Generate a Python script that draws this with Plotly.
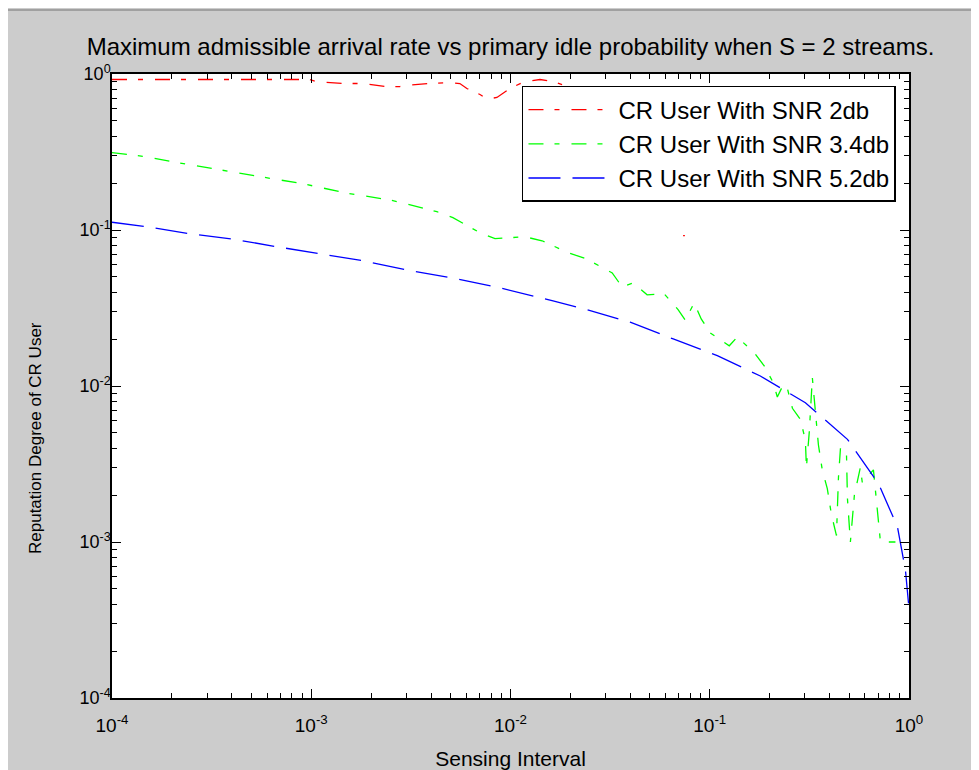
import plotly.graph_objects as go

# ---------------- data ----------------
red_x = [1e-4, 9.83e-4, 1.066e-3, 1.439e-3, 1.815e-3, 2.39e-3, 2.785e-3, 3.02e-3,
         3.94e-3, 4.97e-3, 5.57e-3, 6.04e-3, 7.03e-3, 7.62e-3, 8.55e-3, 9.94e-3,
         0.01155, 0.01406, 0.01636, 0.01815, None, 0.0735, 0.0750]
red_y = [0.922, 0.922, 0.891, 0.869, 0.869, 0.828, 0.831, 0.847,
         0.869, 0.882, 0.869, 0.807, 0.739, 0.691, 0.707, 0.807,
         0.886, 0.922, 0.895, 0.856, None, 0.092, 0.092]

green_x = [1e-4, 1.49e-4, 2.01e-4, 3.35e-4, 5.51e-4, 9.06e-4, 1.52e-3, 2.54e-3, 4.27e-3,
           5.14e-3, 7.03e-3, 8.36e-3, 0.0118, 0.0144, 0.0195, 0.0239, 0.0324, 0.0363,
           0.0413, 0.0485, 0.059, 0.0695, 0.0753, 0.0836, 0.0906, 0.1006, 0.1253, 0.1374,
           0.1675, 0.188, 0.2084, 0.2183, 0.2339, 0.2449, 0.26, 0.285, 0.302, 0.3055,
           0.316, 0.3273, 0.335, 0.343, 0.351, 0.367, 0.389, 0.408, 0.4325, 0.4426,
           0.453, 0.4853, 0.491, 0.508, 0.532, 0.570, 0.583, 0.663, 0.719, 0.798, 0.855]
green_y = [0.313, 0.295, 0.274, 0.244, 0.220, 0.198, 0.172, 0.155, 0.131,
           0.120, 0.096, 0.088, 0.0905, 0.0853, 0.0715, 0.0654, 0.0531, 0.0432,
           0.0458, 0.0384, 0.039, 0.0308, 0.0265, 0.0341, 0.0269, 0.0219, 0.0181, 0.0206,
           0.0163, 0.0134, 0.0105, 0.0085, 0.0102, 0.0097, 0.0072, 0.0061, 0.0045, 0.0030,
           0.0051, 0.0113, 0.0079, 0.0054, 0.0042, 0.0029, 0.0022, 0.0015, 0.0011, 0.0026,
           0.0040, 0.0038, 0.0019, 0.0010, 0.0020, 0.0030, 0.0024, 0.0029, 0.0010, 0.0010, 0.0010]

blue_x = [1e-4, 1.457e-4, 2.451e-4, 4.03e-4, 6.71e-4, 1.129e-3, 1.857e-3, 3.09e-3,
          5.14e-3, 8.55e-3, 0.01117, 0.01635, 0.02366, 0.03986, 0.06556, 0.1091,
          0.1794, 0.302, 0.491, 0.7026, 0.875, 0.906, 0.960, 1.0]
blue_y = [0.1121, 0.1054, 0.0946, 0.0875, 0.0781, 0.0704, 0.0632, 0.0550,
          0.0491, 0.0430, 0.0397, 0.0351, 0.0311, 0.02564, 0.02003, 0.01565,
          0.01159, 0.00781, 0.00455, 0.00237, 0.00125, 0.00100, 0.000658, 0.000375]

series_names = ["CR User With SNR 2db", "CR User With SNR 3.4db", "CR User With SNR 5.2db"]
tick_vals = [1e-4, 1e-3, 1e-2, 1e-1, 1e0]
tick_text = ["10<sup>-4</sup>", "10<sup>-3</sup>", "10<sup>-2</sup>", "10<sup>-1</sup>", "10<sup>0</sup>"]
title_text = "Maximum admissible arrival rate vs primary idle probability when S = 2 streams."
x_title = "Sensing Interval"
y_title = "Reputation Degree of CR User"

# ---------------- figure ----------------
FONT = "Liberation Sans, Arial, sans-serif"
W, H = 979, 770
ML, MR, MT, MB = 104, 78, 66, 80
PW, PH = W - ML - MR, H - MT - MB
minor_vals = [m * 10.0 ** e for e in range(-4, 0) for m in range(2, 10)]

fig = go.Figure()
fig.add_trace(go.Scatter(x=red_x, y=red_y, mode="lines", name=series_names[0],
                         line=dict(color="#ff0000", width=1.3, dash="15px,11px,5px,12px")))
fig.add_trace(go.Scatter(x=green_x, y=green_y, mode="lines", name=series_names[1],
                         line=dict(color="#00ff00", width=1.3, dash="15px,11px,5px,12px")))
fig.add_trace(go.Scatter(x=blue_x, y=blue_y, mode="lines", name=series_names[2],
                         line=dict(color="#0000ff", width=1.3, dash="32px,12px")))

axis_common = dict(
    type="log", showgrid=False, zeroline=False,
    showline=True, linecolor="black", linewidth=1.5, mirror="allticks",
    ticks="inside", ticklen=9, tickwidth=1.2, tickcolor="black",
    tickmode="array", tickvals=tick_vals, ticktext=tick_text,
    minor=dict(ticks="inside", ticklen=5, tickwidth=1.2, tickcolor="black",
               tickmode="array", tickvals=minor_vals, showgrid=False),
)

fig.update_layout(
    width=W, height=H,
    paper_bgcolor="#cccccc", plot_bgcolor="white",
    margin=dict(l=ML, r=MR, t=MT, b=MB),
    title=dict(text=title_text, x=0.5, xref="paper", xanchor="center",
               y=1 - 39 / H, yanchor="middle",
               font=dict(family=FONT, size=24, color="black")),
    xaxis=dict(axis_common, range=[-4, 0], ticklabelstandoff=9,
               tickfont=dict(family=FONT, size=19, color="black"),
               title=dict(text=x_title, standoff=17, font=dict(family=FONT, size=21, color="black"))),
    yaxis=dict(axis_common, range=[-4, 0], ticklabelstandoff=-4,
               tickfont=dict(family=FONT, size=18, color="black")),
    legend=dict(x=0.5144, y=0.9808, xanchor="left", yanchor="top",
                bgcolor="white", bordercolor="black", borderwidth=1.5,
                font=dict(family=FONT, size=24, color="black"),
                itemwidth=85, tracegroupgap=0),
    showlegend=True,
    annotations=[dict(text=y_title, textangle=-90, showarrow=False,
                      xref="paper", yref="paper",
                      x=(28 - ML) / PW, y=(PH + MT - 430) / PH,
                      xanchor="center", yanchor="middle",
                      font=dict(family=FONT, size=17, color="black"))],
    shapes=[dict(type="line", xref="paper", yref="paper",
                 x0=-ML / PW, x1=(W - ML) / PW,
                 y0=(PH + MT - 2) / PH, y1=(PH + MT - 2) / PH,
                 line=dict(color="#a0a0a0", width=2))],
)

fig.write_html("out.html")
